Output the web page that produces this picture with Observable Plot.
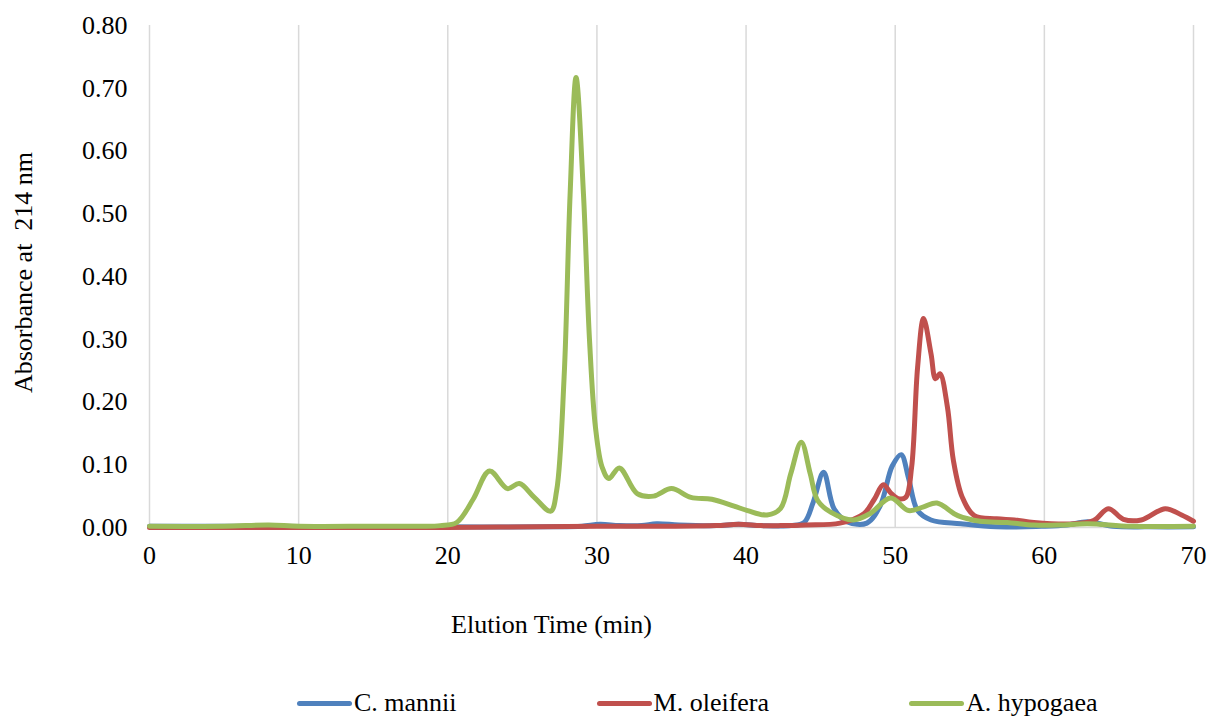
<!DOCTYPE html>
<html>
<head>
<meta charset="utf-8">
<script src="https://cdn.jsdelivr.net/npm/d3@7"></script>
<script src="https://cdn.jsdelivr.net/npm/@observablehq/plot@0.6"></script>
<style>
  body { margin: 0; background: #fff; font-family: "Liberation Serif", "Times New Roman", serif; }
  #legend { display: flex; align-items: center; padding-left: 297px; margin-top: 30px; height: 26px; font-size: 26px; color: #000; }
  .item { display: flex; align-items: center; }
  .sw { width: 55px; height: 5px; border-radius: 3px; margin-right: 2px; }
</style>
</head>
<body>
<div id="chart"></div>
<div id="legend"></div>
<script>
const seriesNames = ["C. mannii", "M. oleifera", "A. hypogaea"];
const seriesColors = ["#4F81BD", "#C0504D", "#9BBB59"];

const mTime = [0, 5, 8, 12, 20, 27, 29, 30.2, 31.5, 33, 34, 35.5, 38, 39.5, 41, 43, 43.9, 44.5, 45.2, 45.9, 46.8, 48.1, 49.0, 49.8, 50.4, 50.9, 51.5, 52.4, 54.4, 56.8, 59.8, 61.5, 62.9, 64.6, 67, 70];
const mAbs  = [0.002, 0.002, 0.002, 0.001, 0.001, 0.001, 0.002, 0.005, 0.003, 0.003, 0.006, 0.004, 0.003, 0.005, 0.003, 0.003, 0.008, 0.040, 0.088, 0.030, 0.009, 0.007, 0.035, 0.098, 0.116, 0.078, 0.027, 0.012, 0.006, 0.001, 0.002, 0.004, 0.009, 0.002, 0.001, 0.001];

const oTime = [0, 10, 20, 30, 35, 38, 39.5, 41, 42.3, 44, 46.3, 47.9, 48.6, 49.2, 49.7, 50.2, 50.7, 51.1, 51.5, 51.9, 52.4, 52.7, 53.0, 53.5, 53.9, 54.5, 55.3, 56.8, 58, 59.3, 62.0, 63.3, 64.3, 65.3, 66.5, 68.1, 69.2, 70];
const oAbs  = [0.0, 0.0, 0.0, 0.002, 0.002, 0.003, 0.005, 0.003, 0.003, 0.004, 0.007, 0.022, 0.045, 0.068, 0.055, 0.046, 0.048, 0.096, 0.255, 0.333, 0.277, 0.237, 0.245, 0.192, 0.107, 0.048, 0.019, 0.014, 0.012, 0.008, 0.006, 0.011, 0.030, 0.013, 0.012, 0.030, 0.020, 0.010];

const hTime = [0, 5, 8, 10, 15, 18.2, 19.5, 20.6, 21.7, 22.8, 24.0, 24.8, 25.8, 26.9, 27.3, 27.8, 28.2, 28.6, 29.1, 29.5, 29.9, 30.35, 30.8, 31.5, 32.7, 33.8, 35.0, 36.3, 37.7, 39.2, 40.1, 41.4, 42.3, 43.0, 43.7, 44.3, 44.8, 45.7, 47.2, 48.3, 49.7, 50.9, 51.9, 52.8, 54.2, 55.7, 57.5, 59.3, 61, 62.9, 65.8, 70];
const hAbs  = [0.002, 0.002, 0.004, 0.002, 0.002, 0.002, 0.003, 0.008, 0.045, 0.090, 0.062, 0.070, 0.048, 0.026, 0.059, 0.24, 0.53, 0.717, 0.53, 0.30, 0.16, 0.096, 0.078, 0.095, 0.054, 0.050, 0.062, 0.048, 0.045, 0.034, 0.027, 0.020, 0.030, 0.086, 0.136, 0.086, 0.043, 0.024, 0.012, 0.022, 0.047, 0.027, 0.033, 0.039, 0.019, 0.010, 0.008, 0.004, 0.004, 0.006, 0.002, 0.002];

const xTicks = [0, 10, 20, 30, 40, 50, 60, 70];
const yTicks = [0, 0.1, 0.2, 0.3, 0.4, 0.5, 0.6, 0.7, 0.8];

const series = [
  {name: seriesNames[0], color: seriesColors[0], rows: mTime.map((t, i) => ({t, v: mAbs[i]}))},
  {name: seriesNames[1], color: seriesColors[1], rows: oTime.map((t, i) => ({t, v: oAbs[i]}))},
  {name: seriesNames[2], color: seriesColors[2], rows: hTime.map((t, i) => ({t, v: hAbs[i]}))}
];

const chart = Plot.plot({
  width: 1212,
  height: 660,
  marginLeft: 149,
  marginRight: 19,
  marginTop: 25,
  marginBottom: 133,
  style: {fontFamily: '"Liberation Serif", "Times New Roman", serif', fontSize: "26px", color: "#000", background: "#fff"},
  x: {domain: [0, 70], ticks: xTicks, tickSize: 0, tickPadding: 18, label: null},
  y: {domain: [0, 0.8], ticks: yTicks, tickSize: 0, tickPadding: 22, tickFormat: d3.format(".2f"), label: null},
  marks: [
    Plot.ruleX(xTicks, {stroke: "#D9D9D9", strokeWidth: 1.5}),
    Plot.ruleY([0], {stroke: "#D9D9D9", strokeWidth: 1.5}),
    ...series.map(s => Plot.line(s.rows, {x: "t", y: "v", stroke: s.color, strokeWidth: 5, curve: "catmull-rom", strokeLinejoin: "round", strokeLinecap: "round"})),
    Plot.text(["Elution Time (min)"], {frameAnchor: "bottom", dx: -120, dy: 105, fontSize: 26, fill: "#000"}),
    Plot.text(["Absorbance at  214 nm"], {frameAnchor: "left", textAnchor: "middle", rotate: -90, dx: -126, dy: -4, fontSize: 26, fill: "#000"})
  ]
});
document.getElementById("chart").appendChild(chart);

const legend = document.getElementById("legend");
series.forEach((s, i) => {
  const it = document.createElement("div");
  it.className = "item";
  if (i > 0) it.style.marginLeft = "140px";
  const sw = document.createElement("div");
  sw.className = "sw";
  sw.style.background = s.color;
  const tx = document.createElement("span");
  tx.textContent = s.name;
  it.appendChild(sw);
  it.appendChild(tx);
  legend.appendChild(it);
});
</script>
</body>
</html>
